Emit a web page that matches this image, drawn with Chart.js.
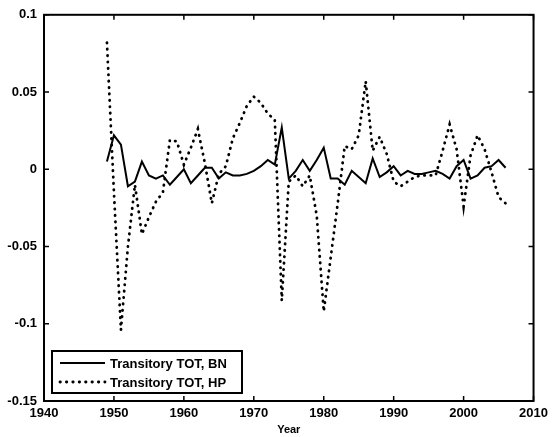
<!DOCTYPE html>
<html>
<head>
<meta charset="utf-8">
<script src="https://cdn.jsdelivr.net/npm/chart.js@4/dist/chart.umd.min.js"></script>
<style>
  html, body { margin: 0; padding: 0; background: #fff; }
  #wrap { width: 553px; height: 437px; position: relative; }
</style>
</head>
<body>
<div id="wrap"><canvas id="c" width="553" height="437"></canvas></div>
<script>
const years = [1949, 1950, 1951, 1952, 1953, 1954, 1955, 1956, 1957, 1958,
  1959, 1960, 1961, 1962, 1963, 1964, 1965, 1966, 1967, 1968,
  1969, 1970, 1971, 1972, 1973, 1974, 1975, 1976, 1977, 1978,
  1979, 1980, 1981, 1982, 1983, 1984, 1985, 1986, 1987, 1988,
  1989, 1990, 1991, 1992, 1993, 1994, 1995, 1996, 1997, 1998,
  1999, 2000, 2001, 2002, 2003, 2004, 2005, 2006];

const totBN = [0.005, 0.022, 0.016, -0.011, -0.008, 0.005, -0.004, -0.006, -0.004, -0.010,
  -0.005, 0.000, -0.009, -0.004, 0.001, 0.001, -0.006, -0.002, -0.004, -0.004,
  -0.003, -0.001, 0.002, 0.006, 0.003, 0.027, -0.006, -0.001, 0.006, -0.001,
  0.006, 0.014, -0.006, -0.006, -0.010, -0.001, -0.005, -0.009, 0.007, -0.005,
  -0.002, 0.002, -0.004, -0.001, -0.003, -0.003, -0.002, -0.001, -0.003, -0.006,
  0.002, 0.006, -0.006, -0.004, 0.001, 0.002, 0.006, 0.001];

const totHP = [0.082, -0.015, -0.104, -0.050, -0.010, -0.042, -0.031, -0.021, -0.015, 0.019,
  0.018, 0.003, 0.014, 0.026, 0.004, -0.022, -0.003, 0.002, 0.020, 0.030,
  0.041, 0.047, 0.043, 0.036, 0.032, -0.085, -0.008, -0.004, -0.011, -0.004,
  -0.030, -0.092, -0.057, -0.022, 0.015, 0.013, 0.022, 0.057, 0.012, 0.021,
  0.010, -0.008, -0.011, -0.008, -0.005, -0.004, -0.004, -0.004, 0.012, 0.029,
  0.013, -0.024, 0.009, 0.022, 0.013, -0.002, -0.018, -0.022];

const xTicks = [1940, 1950, 1960, 1970, 1980, 1990, 2000, 2010];
const yTicks = [-0.15, -0.1, -0.05, 0, 0.05, 0.1];
const seriesNames = ['Transitory TOT, BN', 'Transitory TOT, HP'];

const FONT = 'Liberation Sans, Arial, sans-serif';

// box, inward ticks on all four sides, legend in lower-left corner
const framePlugin = {
  id: 'frame',
  afterDraw(chart) {
    const { ctx, chartArea: a, scales } = chart;
    ctx.save();
    ctx.strokeStyle = '#000';
    ctx.lineWidth = 2;
    ctx.strokeRect(a.left, a.top, a.right - a.left, a.bottom - a.top);
    ctx.lineWidth = 1.5;
    const t = 5;
    xTicks.forEach(v => {
      const x = scales.x.getPixelForValue(v);
      ctx.beginPath();
      ctx.moveTo(x, a.bottom); ctx.lineTo(x, a.bottom - t);
      ctx.moveTo(x, a.top); ctx.lineTo(x, a.top + t);
      ctx.stroke();
    });
    yTicks.forEach(v => {
      const y = scales.y.getPixelForValue(v);
      ctx.beginPath();
      ctx.moveTo(a.left, y); ctx.lineTo(a.left + t, y);
      ctx.moveTo(a.right, y); ctx.lineTo(a.right - t, y);
      ctx.stroke();
    });

    // legend
    const lx = a.left + 8, ly = a.bottom - 50, lw = 190, lh = 42;
    ctx.fillStyle = '#fff';
    ctx.fillRect(lx, ly, lw, lh);
    ctx.lineWidth = 2;
    ctx.strokeRect(lx, ly, lw, lh);
    ctx.font = 'bold 13px ' + FONT;
    ctx.textBaseline = 'middle';
    chart.data.datasets.forEach((ds, i) => {
      const yy = ly + 12 + i * 19;
      ctx.strokeStyle = '#000';
      ctx.lineWidth = ds.borderWidth;
      ctx.lineCap = ds.borderCapStyle || 'butt';
      ctx.setLineDash(ds.borderDash || []);
      ctx.beginPath();
      ctx.moveTo(lx + 8, yy); ctx.lineTo(lx + 53, yy);
      ctx.stroke();
      ctx.setLineDash([]);
      ctx.lineCap = 'butt';
      ctx.fillStyle = '#000';
      ctx.fillText(ds.label, lx + 58, yy + 1);
    });
    ctx.restore();
  }
};

new Chart(document.getElementById('c'), {
  type: 'line',
  data: {
    datasets: [
      {
        label: seriesNames[0],
        data: years.map((yr, i) => ({ x: yr, y: totBN[i] })),
        borderColor: '#000',
        borderWidth: 2,
        pointRadius: 0,
        tension: 0,
        fill: false
      },
      {
        label: seriesNames[1],
        data: years.map((yr, i) => ({ x: yr, y: totHP[i] })),
        borderColor: '#000',
        borderWidth: 2.8,
        borderCapStyle: 'round',
        borderDash: [0.4, 6],
        pointRadius: 0,
        tension: 0,
        fill: false
      }
    ]
  },
  options: {
    responsive: false,
    animation: false,
    layout: { padding: { top: 9, right: 17, left: 0, bottom: 0 } },
    plugins: {
      legend: { display: false },
      tooltip: { enabled: false }
    },
    scales: {
      x: {
        type: 'linear',
        min: 1940,
        max: 2010,
        afterBuildTicks: s => { s.ticks = xTicks.map(v => ({ value: v })); },
        afterFit: s => { s.height = 36; },
        grid: { display: false, drawTicks: false },
        border: { display: false },
        ticks: {
          color: '#000',
          padding: 5,
          maxRotation: 0,
          font: { family: FONT, size: 13, weight: 'bold' },
          callback: v => String(v)
        },
        title: {
          display: true,
          text: 'Year',
          color: '#000',
          padding: { top: 0, bottom: 0 },
          font: { family: FONT, size: 11, weight: 'bold' }
        }
      },
      y: {
        min: -0.15,
        max: 0.1,
        afterBuildTicks: s => { s.ticks = yTicks.map(v => ({ value: v })); },
        afterFit: s => { s.width = 44; },
        grid: { display: false, drawTicks: false },
        border: { display: false },
        ticks: {
          color: '#000',
          padding: 7,
          font: { family: FONT, size: 13, weight: 'bold' },
          callback: v => String(Number(v.toFixed(2)))
        }
      }
    }
  },
  plugins: [framePlugin]
});
</script>
</body>
</html>
